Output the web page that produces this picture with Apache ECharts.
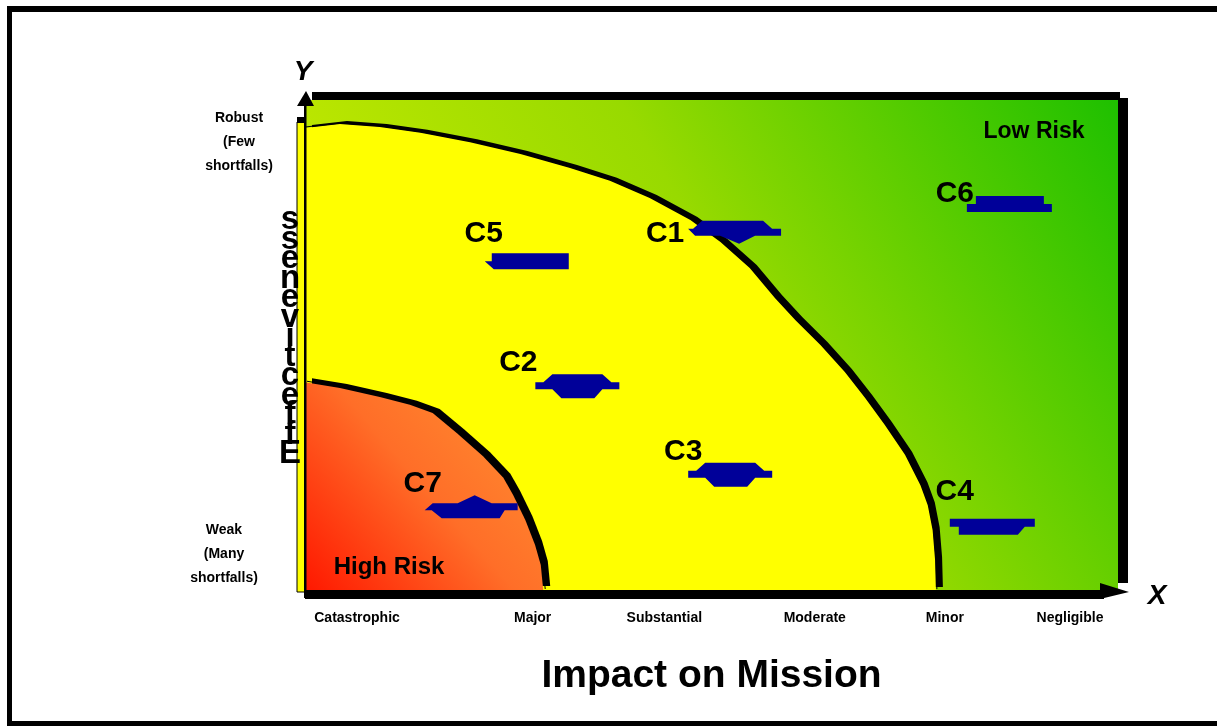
<!DOCTYPE html>
<html>
<head>
<meta charset="utf-8">
<script src="https://cdn.jsdelivr.net/npm/echarts@6.0.0/dist/echarts.min.js"></script>
<style>
  html, body { margin: 0; padding: 0; background: #ffffff; }
  #chart { width: 1217px; height: 726px; }
</style>
</head>
<body>
<div id="chart"></div>
<script>
// Impact scale (X, 0-100) category labels and where they sit
const impactLabels = ['Catastrophic', 'Major', 'Substantial', 'Moderate', 'Minor', 'Negligible'];
const impactPositions = [6.4, 28.0, 44.2, 62.7, 78.7, 94.1];

// Effectiveness scale (Y, 0-100) anchor labels
const effectivenessLabels = ['Robust\n(Few\nshortfalls)', 'Weak\n(Many\nshortfalls)'];
const effectivenessPositions = [91.4, 7.3];

// Boundary between medium risk (inside) and low risk (outside): [impact, effectiveness]
const mediumRiskBoundary = [
  [0, 94.3], [4.3, 95.1], [9.2, 94.5], [14.2, 93.3], [20.3, 91.4], [26.5, 89.0],
  [32.6, 86.1], [37.5, 83.5], [42.4, 80.0], [47.4, 75.5], [51.1, 71.0], [54.7, 65.7],
  [57.8, 59.6], [60.3, 55.1], [63.4, 50.0], [66.4, 44.5], [68.9, 39.2], [71.3, 33.7],
  [73.8, 27.6], [75.7, 21.4], [76.6, 17.3], [77.2, 12.2], [77.5, 6.1], [77.6, 0]
];

// Boundary between high risk (inside) and medium risk (outside)
const highRiskBoundary = [
  [0, 42.4], [4.3, 41.2], [9.2, 39.4], [12.9, 37.8], [15.7, 36.1], [18.7, 32.0],
  [21.9, 27.3], [24.4, 22.9], [25.6, 19.4], [27.1, 14.3], [28.3, 9.2], [29.0, 5.1], [29.3, 0]
];

// Capabilities placed by impact (X) and effectiveness (Y)
const capabilityNames = ['C1', 'C2', 'C3', 'C4', 'C5', 'C6', 'C7'];
const capabilityImpact = [52.9, 33.5, 52.3, 84.6, 27.4, 86.7, 20.5];
const capabilityEffectiveness = [73.3, 41.8, 23.7, 12.9, 67.1, 78.8, 16.7];

// ---- drawing styles ----
const FONT = '"Liberation Sans", Arial, sans-serif';
const MARKER_BLUE = '#000099';

// Marker outlines in pixels around each capability point
const HEX = [[-42,-3],[-34,-3],[-25,-11],[25,-11],[34,-3],[42,-3],[42,4],[25,4],[17,13],[-16,13],[-25,4],[-42,4]];
const glyphs = {
  C1: [[-33,-10],[28,-10],[37,-2],[46,-2],[46,5],[20,5],[4,13],[-15,5],[-40,5],[-47,-2],[-42,-2]],
  C2: HEX,
  C3: HEX,
  C4: [[-43,-8],[42,-8],[42,0],[32,0],[25,8],[-34,8],[-34,0],[-43,0]],
  C5: [[-36,-8],[41,-8],[41,8],[-34,8],[-43,0],[-36,0]],
  C6: [[-34,-8],[34,-8],[34,0],[42,0],[42,8],[-43,8],[-43,0],[-34,0]],
  C7: [[-39,-5],[-14,-5],[3,-13],[20,-5],[46,-5],[46,2],[33,2],[28,10],[-30,10],[-40,2],[-47,2]]
};
// Capability name placement relative to its marker
const nameOffsets = {
  C1: [-70, 3], C2: [-59, -22], C3: [-47, -22], C4: [-38, -35],
  C5: [-44, -27], C6: [-55, -10], C7: [-49, -24]
};

const greenFill = new echarts.graphic.LinearGradient(1, 0, 0, 1, [
  { offset: 0, color: '#1ec000' },
  { offset: 0.45, color: '#98da00' },
  { offset: 1, color: '#d8f000' }
]);
const orangeFill = new echarts.graphic.LinearGradient(1, 0, 0, 1, [
  { offset: 0, color: '#ff9432' },
  { offset: 0.5, color: '#ff6e28' },
  { offset: 1, color: '#ff1800' }
]);

const shift = (pts, dx, dy) => pts.map(p => [p[0] + dx, p[1] + dy]);

const chart = echarts.init(document.getElementById('chart'), null, { renderer: 'canvas' });

chart.setOption({
  animation: false,
  backgroundColor: '#ffffff',
  grid: { left: 305, top: 100, width: 813, height: 490, containLabel: false },
  xAxis: {
    type: 'value', min: 0, max: 100,
    name: 'Impact on Mission', nameLocation: 'middle', nameGap: 67,
    nameTextStyle: { fontFamily: FONT, fontWeight: 'bold', fontSize: 39, color: '#000' },
    axisLine: { show: false }, axisTick: { show: false }, axisLabel: { show: false }, splitLine: { show: false }
  },
  yAxis: {
    type: 'value', min: 0, max: 100,
    axisLine: { show: false }, axisTick: { show: false }, axisLabel: { show: false }, splitLine: { show: false }
  },
  graphic: [
    // page border
    { type: 'rect', shape: { x: 7, y: 6, width: 5, height: 720 }, style: { fill: '#000' } },
    { type: 'rect', shape: { x: 7, y: 6, width: 1210, height: 6 }, style: { fill: '#000' } },
    { type: 'rect', shape: { x: 7, y: 721, width: 1210, height: 5 }, style: { fill: '#000' } },
    // axis letters
    { type: 'text', x: 303, y: 72, style: { text: 'Y', font: 'italic bold 28px ' + FONT, fill: '#000', align: 'center', verticalAlign: 'middle' } },
    { type: 'text', x: 1157, y: 596, style: { text: 'X', font: 'italic bold 28px ' + FONT, fill: '#000', align: 'center', verticalAlign: 'middle' } },
    // Y title, letters stacked from the bottom up
    { type: 'text', x: 290, y: 337, z: 10,
      style: { text: 'Effectiveness'.split('').reverse().join('\n'), font: 'bold 33px ' + FONT,
               lineHeight: 19.5, fill: '#000', align: 'center', verticalAlign: 'middle' } },
    // zone names
    { type: 'text', x: 1034, y: 132, z: 10, style: { text: 'Low Risk', font: 'bold 23px ' + FONT, fill: '#000', align: 'center', verticalAlign: 'middle' } },
    { type: 'text', x: 389, y: 567, z: 10, style: { text: 'High Risk', font: 'bold 24px ' + FONT, fill: '#000', align: 'center', verticalAlign: 'middle' } }
  ],
  series: [
    {
      // risk zones: low (background), medium and high with their shadows
      type: 'custom', name: 'zones', coordinateSystem: 'cartesian2d', clip: false, z: 1,
      data: [[0, 0]],
      renderItem(params, api) {
        const tl = api.coord([0, 100]);
        const br = api.coord([100, 0]);
        const origin = api.coord([0, 0]);
        const medCurve = mediumRiskBoundary.map(p => api.coord(p));
        const highCurve = highRiskBoundary.map(p => api.coord(p));
        const med = [origin].concat(medCurve);
        const high = [origin].concat(highCurve);
        return {
          type: 'group',
          children: [
            { type: 'rect', shape: { x: tl[0], y: tl[1], width: br[0] - tl[0], height: br[1] - tl[1] }, style: { fill: greenFill } },
            { type: 'polygon', shape: { points: shift(med, 7, -3) }, style: { fill: '#000' } },
            { type: 'polygon', shape: { points: med }, style: { fill: '#ffff00' } },
            { type: 'polyline', shape: { points: shift(medCurve, 1, -1) }, style: { stroke: '#000', lineWidth: 1, fill: null } },
            { type: 'polygon', shape: { points: shift(high, 7, -4) }, style: { fill: '#000' } },
            { type: 'polygon', shape: { points: high }, style: { fill: orangeFill } },
            { type: 'polyline', shape: { points: shift(highCurve, 2, -1) }, style: { stroke: '#000', lineWidth: 1, fill: null } }
          ]
        };
      }
    },
    {
      // axis bars, arrows and the left yellow strip
      type: 'custom', name: 'axes', coordinateSystem: 'cartesian2d', clip: false, z: 3,
      data: [[0, 0]],
      renderItem(params, api) {
        const tl = api.coord([0, 100]);
        const br = api.coord([100, 0]);
        const x0 = tl[0], y0 = tl[1], x1 = br[0], y1 = br[1];
        const black = { fill: '#000' };
        return {
          type: 'group',
          children: [
            { type: 'rect', shape: { x: x0 - 8, y: y0 + 22, width: 8, height: y1 - y0 - 20 }, style: { fill: '#ffff00', stroke: '#000', lineWidth: 1 } },
            { type: 'rect', shape: { x: x0 - 8, y: y0 + 17, width: 8, height: 6 }, style: black },
            { type: 'rect', shape: { x: x0 - 1, y: y0 + 5, width: 2.5, height: y1 - y0 + 3 }, style: black },
            { type: 'polygon', shape: { points: [[x0 - 8, y0 + 6], [x0 + 1, y0 - 9], [x0 + 9, y0 + 6]] }, style: black },
            { type: 'rect', shape: { x: x0 + 7, y: y0 - 8, width: x1 + 2 - (x0 + 7), height: 8 }, style: black },
            { type: 'rect', shape: { x: x1, y: y0 - 2, width: 10, height: y1 - 7 - (y0 - 2) }, style: black },
            { type: 'rect', shape: { x: x0, y: y1, width: x1 - 14 - x0, height: 9 }, style: black },
            { type: 'polygon', shape: { points: [[x1 - 18, y1 - 7], [x1 + 11, y1 + 2], [x1 - 18, y1 + 9]] }, style: black }
          ]
        };
      }
    },
    {
      // capabilities
      type: 'custom', name: 'capabilities', coordinateSystem: 'cartesian2d', clip: false, z: 5,
      data: capabilityNames.map((n, i) => [capabilityImpact[i], capabilityEffectiveness[i]]),
      renderItem(params, api) {
        const name = capabilityNames[params.dataIndex];
        const c = api.coord([api.value(0), api.value(1)]);
        const off = nameOffsets[name];
        return {
          type: 'group',
          children: [
            { type: 'polygon', shape: { points: glyphs[name].map(p => [c[0] + p[0], c[1] + p[1]]) }, style: { fill: MARKER_BLUE } },
            { type: 'text', x: c[0] + off[0], y: c[1] + off[1],
              style: { text: name, font: 'bold 30px ' + FONT, fill: '#000', align: 'center', verticalAlign: 'middle' } }
          ]
        };
      }
    },
    {
      // impact category labels under the X axis
      type: 'custom', name: 'impactLabels', coordinateSystem: 'cartesian2d', clip: false, z: 5,
      data: impactPositions.map(x => [x, 0]),
      renderItem(params, api) {
        const c = api.coord([api.value(0), 0]);
        return { type: 'text', x: c[0], y: c[1] + 28,
          style: { text: impactLabels[params.dataIndex], font: 'bold 14px ' + FONT, fill: '#000', align: 'center', verticalAlign: 'middle' } };
      }
    },
    {
      // effectiveness anchor labels left of the Y axis
      type: 'custom', name: 'effectivenessLabels', coordinateSystem: 'cartesian2d', clip: false, z: 5,
      data: effectivenessPositions.map(y => [0, y]),
      renderItem(params, api) {
        const c = api.coord([0, api.value(1)]);
        const dx = params.dataIndex === 0 ? -66 : -81;
        return { type: 'text', x: c[0] + dx, y: c[1],
          style: { text: effectivenessLabels[params.dataIndex], font: 'bold 14px ' + FONT, lineHeight: 24,
                   fill: '#000', align: 'center', verticalAlign: 'middle' } };
      }
    }
  ]
});
</script>
</body>
</html>
